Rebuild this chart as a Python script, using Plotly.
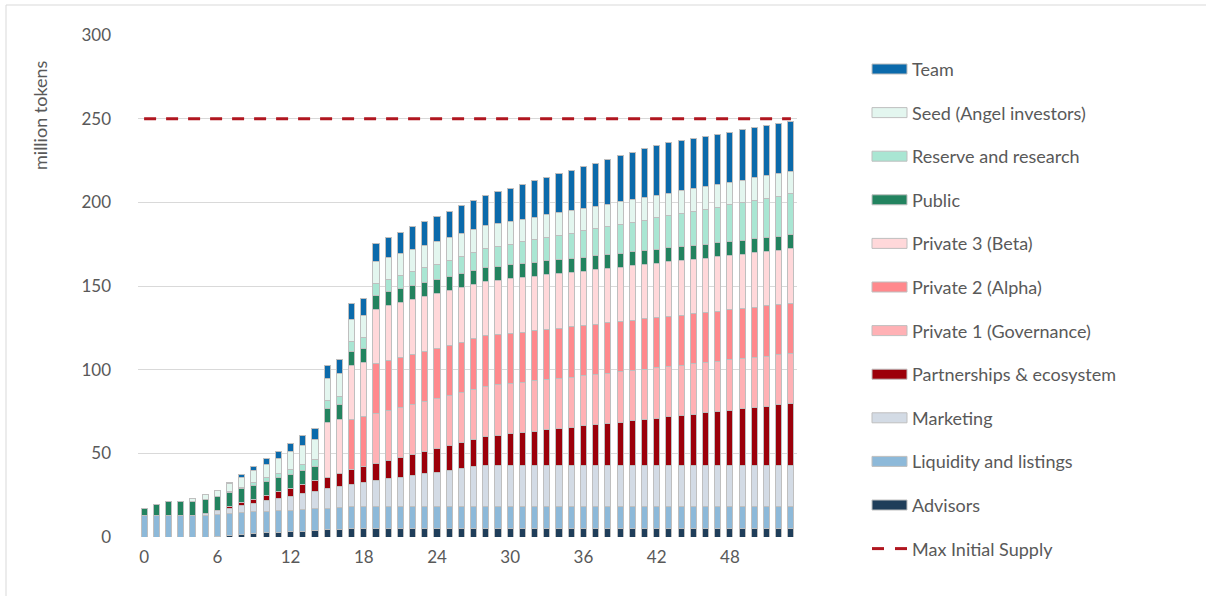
import plotly.graph_objects as go

# Month index (0..53) and x tick labels
months = list(range(54))
tick_months = [0, 6, 12, 18, 24, 30, 36, 42, 48]
tick_labels = ["0", "6", "12", "18", "24", "30", "36", "42", "48"]
y_ticks = [0, 50, 100, 150, 200, 250, 300]

# Circulating supply per allocation, million tokens (stacked bottom to top)
advisors = [0, 0, 0, 0, 0, 0, 0.6, 1.1, 1.6, 2.0, 2.4, 2.7, 3.1, 3.5, 3.9, 4.3, 4.7,
            5, 5, 5, 5, 5, 5, 5, 5, 5, 5, 5, 5, 5, 5, 5, 5, 5, 5, 5, 5, 5,
            5, 5, 5, 5, 5, 5, 5, 5, 5, 5, 5, 5, 5, 5, 5, 5]
liquidity = [13, 13, 13, 13, 13, 13, 13, 13, 13, 13, 13, 13, 13, 13, 13, 13, 13, 13,
             13, 13, 13, 13, 13, 13, 13, 13, 13, 13, 13, 13, 13, 13, 13, 13, 13, 13,
             13, 13, 13, 13, 13, 13, 13, 13, 13, 13, 13, 13, 13, 13, 13, 13, 13, 13]
marketing = [0, 0, 0, 0, 0, 1.0, 2.1, 3.1, 4.2, 5.2, 6.3, 7.3, 8.3, 9.4, 10.4, 11.5,
             12.5, 13.5, 14.6, 15.6, 16.7, 17.7, 18.8, 19.8, 20.8, 21.9, 22.9, 24.0,
             25, 25, 25, 25, 25, 25, 25, 25, 25, 25, 25, 25, 25, 25, 25, 25, 25, 25,
             25, 25, 25, 25, 25, 25, 25, 25]
partnerships = [0, 0, 0, 0, 0, 0, 0, 0.8, 1.6, 2.3, 3.1, 3.9, 4.7, 5.5, 6.2, 7.0, 7.8,
                8.6, 9.4, 10.1, 10.9, 11.7, 12.5, 13.3, 14.0, 14.8, 15.6, 16.4, 17.2,
                17.9, 18.7, 19.5, 20.3, 21.1, 21.8, 22.6, 23.4, 24.2, 25.0, 25.7, 26.5,
                27.3, 28.1, 28.9, 29.6, 30.4, 31.2, 32.0, 32.8, 33.5, 34.3, 35.1, 35.9,
                36.7]
private1 = [0, 0, 0, 0, 0, 0, 0, 0, 0, 0, 0, 0, 0, 0, 0, 0, 0, 0, 0,
            30, 30, 30, 30, 30, 30, 30, 30, 30, 30, 30, 30, 30, 30, 30, 30, 30, 30,
            30, 30, 30, 30, 30, 30, 30, 30, 30, 30, 30, 30, 30, 30, 30, 30, 30]
private2 = [0, 0, 0, 0, 0, 0, 0, 0, 0, 0, 0, 0, 0, 0, 0, 0, 0,
            30, 30, 30, 30, 30, 30, 30, 30, 30, 30, 30, 30, 30, 30, 30, 30, 30, 30,
            30, 30, 30, 30, 30, 30, 30, 30, 30, 30, 30, 30, 30, 30, 30, 30, 30, 30, 30]
private3 = [0, 0, 0, 0, 0, 0, 0, 0, 0, 0, 0, 0, 0, 0, 0,
            32.5, 32.5, 32.5, 32.5, 32.5, 32.5, 32.5, 32.5, 32.5, 32.5, 32.5, 32.5,
            32.5, 32.5, 32.5, 32.5, 32.5, 32.5, 32.5, 32.5, 32.5, 32.5, 32.5, 32.5,
            32.5, 32.5, 32.5, 32.5, 32.5, 32.5, 32.5, 32.5, 32.5, 32.5, 32.5, 32.5,
            32.5, 32.5, 32.5]
public = [4.2, 6.4, 8.4, 8.4, 8.4, 8.4, 8.4, 8.4, 8.4, 8.4, 8.4, 8.4, 8.4, 8.4, 8.4,
          8.4, 8.4, 8.4, 8.4, 8.4, 8.4, 8.4, 8.4, 8.4, 8.4, 8.4, 8.4, 8.4, 8.4, 8.4,
          8.4, 8.4, 8.4, 8.4, 8.4, 8.4, 8.4, 8.4, 8.4, 8.4, 8.4, 8.4, 8.4, 8.4, 8.4,
          8.4, 8.4, 8.4, 8.4, 8.4, 8.4, 8.4, 8.4, 8.4]
reserve = [0, 0, 0, 0, 0, 0, 0, 0.5, 1.0, 1.6, 2.1, 2.6, 3.1, 3.6, 4.2, 4.7, 5.2,
           5.7, 6.2, 6.8, 7.3, 7.8, 8.3, 8.8, 9.4, 9.9, 10.4, 10.9, 11.4, 12.0, 12.5,
           13.0, 13.5, 14.0, 14.6, 15.1, 15.6, 16.1, 16.6, 17.2, 17.7, 18.2, 18.7,
           19.2, 19.8, 20.3, 20.8, 21.3, 21.8, 22.4, 22.9, 23.4, 23.9, 24.4]
seed = [0, 0, 0, 0, 1.8, 2.9, 3.9, 5.0, 6.0, 7.1, 8.1, 9.2, 10.2, 11.3, 12.3, 13.4,
        13.5, 13.5, 13.5, 13.5, 13.5, 13.5, 13.5, 13.5, 13.5, 13.5, 13.5, 13.5, 13.5,
        13.5, 13.5, 13.5, 13.5, 13.5, 13.5, 13.5, 13.5, 13.5, 13.5, 13.5, 13.5, 13.5,
        13.5, 13.5, 13.5, 13.5, 13.5, 13.5, 13.5, 13.5, 13.5, 13.5, 13.5, 13.5]
team = [0, 0, 0, 0, 0, 0, 0, 0.8, 1.7, 2.5, 3.3, 4.2, 5.0, 5.8, 6.6, 7.5, 8.3, 9.1,
        10.0, 10.8, 11.6, 12.5, 13.3, 14.1, 14.9, 15.8, 16.6, 17.4, 18.3, 19.1, 19.9,
        20.8, 21.6, 22.4, 23.2, 24.1, 24.9, 25.7, 26.6, 27.4, 28.2, 29.1, 29.9,
        30, 30, 30, 30, 30, 30, 30, 30, 30, 30, 30]
max_initial_supply = 250

# (label, values, fill colour) from the bottom of the stack upwards
stack = [
    ("Advisors", advisors, "#1f3e5a"),
    ("Liquidity and listings", liquidity, "#8db9d9"),
    ("Marketing", marketing, "#d3dbe5"),
    ("Partnerships & ecosystem", partnerships, "#9c000a"),
    ("Private 1 (Governance)", private1, "#ffb1b5"),
    ("Private 2 (Alpha)", private2, "#ff898d"),
    ("Private 3 (Beta)", private3, "#ffd8da"),
    ("Public", public, "#22835f"),
    ("Reserve and research", reserve, "#a9e6d3"),
    ("Seed (Angel investors)", seed, "#e3f6ef"),
    ("Team", team, "#0b6aab"),
]
supply_color = "#b0161f"
text_color = "#595959"
font_family = "Lato, 'Open Sans', sans-serif"

W, H = 1206, 596
L, R, T, B = 138, 409, 35, 59

fig = go.Figure()
for label, values, color in stack:
    fig.add_trace(go.Bar(
        x=months, y=values, name=label,
        marker=dict(color=color, line=dict(color="#bfbfbf", width=1)),
        showlegend=False,
    ))

fig.add_trace(go.Scatter(
    x=months, y=[max_initial_supply] * len(months), name="Max Initial Supply",
    mode="lines", line=dict(color=supply_color, width=3, dash="12px,10px"),
    showlegend=False,
))


def px_to_paper(px, py):
    return (px - L) / (W - L - R), (H - B - py) / (H - T - B)


shapes = []
annotations = []

# Thin frame along the top and left edges of the chart area
fx0, fy0 = px_to_paper(6, 5)
fx1, fy1 = px_to_paper(W, H)
shapes.append(dict(type="line", xref="paper", yref="paper", layer="below",
                   x0=fx0, x1=fx1, y0=fy0, y1=fy0,
                   line=dict(color="#d9d9d9", width=1)))
shapes.append(dict(type="line", xref="paper", yref="paper", layer="below",
                   x0=fx0, x1=fx0, y0=fy0, y1=fy1,
                   line=dict(color="#d9d9d9", width=1)))

# Legend drawn as swatches and labels beside the plot, top entry first
row_y0, row_step = 69, 43.6
legend_rows = [(label, color) for label, _, color in reversed(stack)]
for i, (label, color) in enumerate(legend_rows):
    cy = row_y0 + i * row_step
    x0, y0 = px_to_paper(872, cy - 5)
    x1, y1 = px_to_paper(907, cy + 5)
    shapes.append(dict(type="rect", xref="paper", yref="paper",
                       x0=x0, x1=x1, y0=y1, y1=y0,
                       fillcolor=color, line=dict(color="#bfbfbf", width=1)))
    tx, ty = px_to_paper(910, cy)
    annotations.append(dict(xref="paper", yref="paper", x=tx, y=ty,
                            text=label, showarrow=False, xanchor="left",
                            yanchor="middle",
                            font=dict(size=18, color=text_color, family=font_family)))

cy = row_y0 + len(legend_rows) * row_step
for sx in (872, 895):
    x0, yy = px_to_paper(sx, cy)
    x1, _ = px_to_paper(sx + 12, cy)
    shapes.append(dict(type="line", xref="paper", yref="paper",
                       x0=x0, x1=x1, y0=yy, y1=yy,
                       line=dict(color=supply_color, width=3)))
tx, ty = px_to_paper(910, cy)
annotations.append(dict(xref="paper", yref="paper", x=tx, y=ty,
                        text="Max Initial Supply", showarrow=False, xanchor="left",
                        yanchor="middle",
                        font=dict(size=18, color=text_color, family=font_family)))

# Vertical axis title
tx, ty = px_to_paper(40, 115)
annotations.append(dict(xref="paper", yref="paper", x=tx, y=ty,
                        text="million tokens", textangle=-90, showarrow=False,
                        xanchor="center", yanchor="middle",
                        font=dict(size=18, color=text_color, family=font_family)))

fig.update_layout(
    width=W, height=H, autosize=False,
    margin=dict(l=L, r=R, t=T, b=B, pad=0),
    barmode="stack", bargap=0.5,
    plot_bgcolor="white", paper_bgcolor="white",
    showlegend=False,
    font=dict(family=font_family, size=17, color=text_color),
    shapes=shapes, annotations=annotations,
    xaxis=dict(range=[-0.5, 53.5], tickvals=tick_months, ticktext=tick_labels,
               showgrid=False, zeroline=False, showline=False, ticks="",
               ticklabelstandoff=8,
               tickfont=dict(size=17, color=text_color, family=font_family)),
    yaxis=dict(range=[0, 300], tickvals=y_ticks, showgrid=True,
               gridcolor="#d9d9d9", gridwidth=1, zeroline=False, showline=False,
               ticks="", ticklabelstandoff=26,
               tickfont=dict(size=17, color=text_color, family=font_family)),
)

fig.write_html("out.html")
